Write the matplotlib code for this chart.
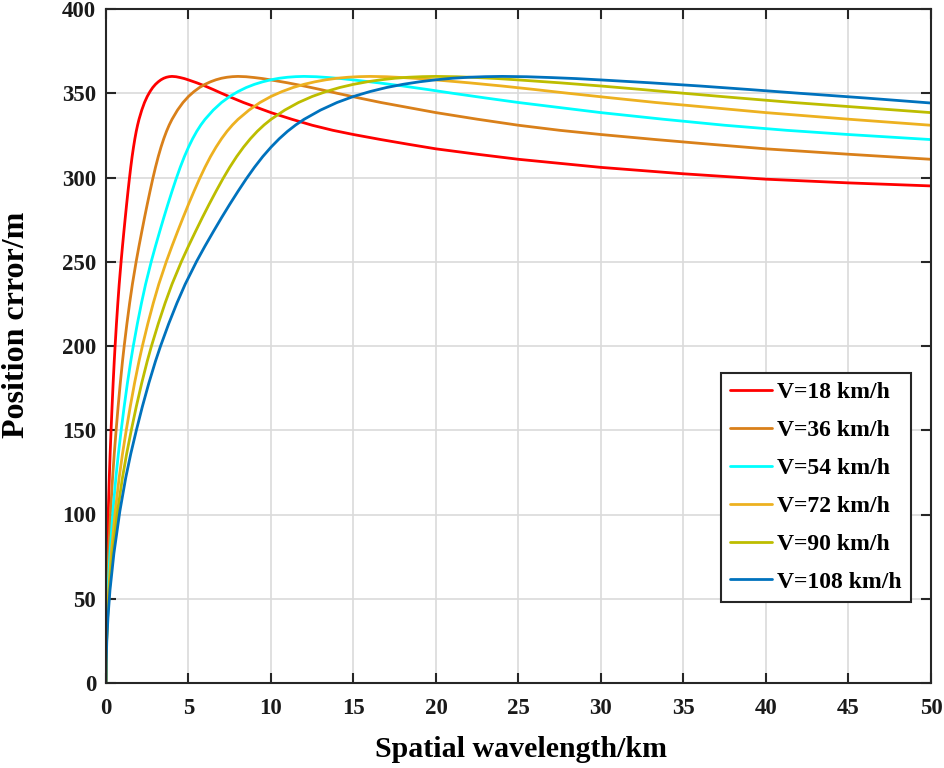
import matplotlib
matplotlib.use("Agg")
import matplotlib.pyplot as plt

labels = ["V=18 km/h", "V=36 km/h", "V=54 km/h", "V=72 km/h", "V=90 km/h", "V=108 km/h"]
colors = ["#FF0000", "#D9801A", "#00FFFF", "#EDB120", "#BDBD00", "#0072BD"]

# --- V = 18 km/h ---
x_v18 = [0, 0.002, 0.008, 0.02, 0.04, 0.08, 0.14, 0.2, 0.25, 0.307, 0.367, 0.433, 0.5, 0.55, 0.633, 0.717,
         0.8, 0.917, 1.0, 1.083, 1.167, 1.25, 1.333, 1.417, 1.5, 1.583, 1.667, 1.75, 1.833, 1.917, 2.0,
         2.167, 2.333, 2.5, 2.667, 2.833, 3.0, 3.167, 3.333, 3.5, 3.667, 3.833, 4.0,
         4.25, 4.5, 4.75, 5.0, 5.5, 6.0, 6.5, 7.0, 7.667, 8.333, 9.167, 10.0, 11.25, 12.5, 13.75, 15.0,
         16.667, 18.333, 20.0, 22.5, 25.0, 30.0, 35.0, 40.0, 45.0, 50.0]
y_v18 = [0, 12, 25, 39, 55, 77, 102, 122, 136, 150, 163.9, 178.1, 191, 199.8, 213.2, 225.5,
         236.7, 250.4, 259.3, 267.8, 276.1, 284.1, 291.8, 299.2, 306.1, 312.4, 318, 323, 327.4, 331.2, 334.5,
         340, 344.5, 348.1, 351, 353.4, 355.3, 356.8, 358, 358.9, 359.5, 359.85, 360,
         359.8, 359.3, 358.7, 357.9, 356.2, 354.3, 352.2, 350, 347.2, 344.5, 341.5, 338.5, 334.6, 331, 328, 325.5,
         322.5, 319.7, 317, 313.8, 310.8, 306, 302.2, 299, 296.8, 295]

# --- V = 36 km/h ---
x_v36 = [0, 0.004, 0.016, 0.04, 0.08, 0.16, 0.28, 0.4, 0.5, 0.613, 0.733, 0.867, 1.0, 1.1, 1.267, 1.433,
         1.6, 1.833, 2.0, 2.167, 2.333, 2.5, 2.667, 2.833, 3.0, 3.167, 3.333, 3.5, 3.667, 3.833, 4.0,
         4.333, 4.667, 5.0, 5.333, 5.667, 6.0, 6.333, 6.667, 7.0, 7.333, 7.667, 8.0,
         8.5, 9.0, 9.5, 10.0, 11.0, 12.0, 13.0, 14.0, 15.333, 16.667, 18.333, 20.0, 22.5, 25.0, 27.5, 30.0,
         33.333, 36.667, 40.0, 45.0, 50.0]
y_v36 = [0, 12, 25, 39, 55, 77, 102, 122, 136, 150, 163.9, 178.1, 191, 199.8, 213.2, 225.5,
         236.7, 250.4, 259.3, 267.8, 276.1, 284.1, 291.8, 299.2, 306.1, 312.4, 318, 323, 327.4, 331.2, 334.5,
         340, 344.5, 348.1, 351, 353.4, 355.3, 356.8, 358, 358.9, 359.5, 359.85, 360,
         359.8, 359.3, 358.7, 357.9, 356.2, 354.3, 352.2, 350, 347.2, 344.5, 341.5, 338.5, 334.6, 331, 328, 325.5,
         322.5, 319.7, 317, 313.8, 310.8]

# --- V = 54 km/h ---
x_v54 = [0, 0.006, 0.024, 0.06, 0.12, 0.24, 0.42, 0.6, 0.75, 0.92, 1.1, 1.3, 1.5, 1.65, 1.9, 2.15,
         2.4, 2.75, 3.0, 3.25, 3.5, 3.75, 4.0, 4.25, 4.5, 4.75, 5.0, 5.25, 5.5, 5.75, 6.0,
         6.5, 7.0, 7.5, 8.0, 8.5, 9.0, 9.5, 10.0, 10.5, 11.0, 11.5, 12.0,
         12.75, 13.5, 14.25, 15.0, 16.5, 18.0, 19.5, 21.0, 23.0, 25.0, 27.5, 30.0, 33.75, 37.5, 41.25, 45.0,
         50.0]
y_v54 = [0, 12, 25, 39, 55, 77, 102, 122, 136, 150, 163.9, 178.1, 191, 199.8, 213.2, 225.5,
         236.7, 250.4, 259.3, 267.8, 276.1, 284.1, 291.8, 299.2, 306.1, 312.4, 318, 323, 327.4, 331.2, 334.5,
         340, 344.5, 348.1, 351, 353.4, 355.3, 356.8, 358, 358.9, 359.5, 359.85, 360,
         359.8, 359.3, 358.7, 357.9, 356.2, 354.3, 352.2, 350, 347.2, 344.5, 341.5, 338.5, 334.6, 331, 328, 325.5,
         322.5]

# --- V = 72 km/h ---
x_v72 = [0, 0.008, 0.032, 0.08, 0.16, 0.32, 0.56, 0.8, 1.0, 1.227, 1.467, 1.733, 2.0, 2.2, 2.533, 2.867,
         3.2, 3.667, 4.0, 4.333, 4.667, 5.0, 5.333, 5.667, 6.0, 6.333, 6.667, 7.0, 7.333, 7.667, 8.0,
         8.667, 9.333, 10.0, 10.667, 11.333, 12.0, 12.667, 13.333, 14.0, 14.667, 15.333, 16.0,
         17.0, 18.0, 19.0, 20.0, 22.0, 24.0, 26.0, 28.0, 30.667, 33.333, 36.667, 40.0, 45.0, 50.0]
y_v72 = [0, 12, 25, 39, 55, 77, 102, 122, 136, 150, 163.9, 178.1, 191, 199.8, 213.2, 225.5,
         236.7, 250.4, 259.3, 267.8, 276.1, 284.1, 291.8, 299.2, 306.1, 312.4, 318, 323, 327.4, 331.2, 334.5,
         340, 344.5, 348.1, 351, 353.4, 355.3, 356.8, 358, 358.9, 359.5, 359.85, 360,
         359.8, 359.3, 358.7, 357.9, 356.2, 354.3, 352.2, 350, 347.2, 344.5, 341.5, 338.5, 334.6, 331]

# --- V = 90 km/h ---
x_v90 = [0, 0.01, 0.04, 0.1, 0.2, 0.4, 0.7, 1.0, 1.25, 1.533, 1.833, 2.167, 2.5, 2.75, 3.167, 3.583,
         4.0, 4.583, 5.0, 5.417, 5.833, 6.25, 6.667, 7.083, 7.5, 7.917, 8.333, 8.75, 9.167, 9.583, 10.0,
         10.833, 11.667, 12.5, 13.333, 14.167, 15.0, 15.833, 16.667, 17.5, 18.333, 19.167, 20.0,
         21.25, 22.5, 23.75, 25.0, 27.5, 30.0, 32.5, 35.0, 38.333, 41.667, 45.833, 50.0]
y_v90 = [0, 12, 25, 39, 55, 77, 102, 122, 136, 150, 163.9, 178.1, 191, 199.8, 213.2, 225.5,
         236.7, 250.4, 259.3, 267.8, 276.1, 284.1, 291.8, 299.2, 306.1, 312.4, 318, 323, 327.4, 331.2, 334.5,
         340, 344.5, 348.1, 351, 353.4, 355.3, 356.8, 358, 358.9, 359.5, 359.85, 360,
         359.8, 359.3, 358.7, 357.9, 356.2, 354.3, 352.2, 350, 347.2, 344.5, 341.5, 338.5]

# --- V = 108 km/h ---
x_v108 = [0, 0.012, 0.048, 0.12, 0.24, 0.48, 0.84, 1.2, 1.5, 1.84, 2.2, 2.6, 3.0, 3.3, 3.8, 4.3,
          4.8, 5.5, 6.0, 6.5, 7.0, 7.5, 8.0, 8.5, 9.0, 9.5, 10.0, 10.5, 11.0, 11.5, 12.0,
          13.0, 14.0, 15.0, 16.0, 17.0, 18.0, 19.0, 20.0, 21.0, 22.0, 23.0, 24.0,
          25.5, 27.0, 28.5, 30.0, 33.0, 36.0, 39.0, 42.0, 46.0, 50.0]
y_v108 = [0, 12, 25, 39, 55, 77, 102, 122, 136, 150, 163.9, 178.1, 191, 199.8, 213.2, 225.5,
          236.7, 250.4, 259.3, 267.8, 276.1, 284.1, 291.8, 299.2, 306.1, 312.4, 318, 323, 327.4, 331.2, 334.5,
          340, 344.5, 348.1, 351, 353.4, 355.3, 356.8, 358, 358.9, 359.5, 359.85, 360,
          359.8, 359.3, 358.7, 357.9, 356.2, 354.3, 352.2, 350, 347.2, 344.2]

xs = [x_v18, x_v36, x_v54, x_v72, x_v90, x_v108]
ys = [y_v18, y_v36, y_v54, y_v72, y_v90, y_v108]

x_ticks = [0, 5, 10, 15, 20, 25, 30, 35, 40, 45, 50]
y_ticks = [0, 50, 100, 150, 200, 250, 300, 350, 400]

plt.rcParams['font.family'] = ['Liberation Serif', 'DejaVu Serif']
plt.rcParams['font.weight'] = 'bold'

fig = plt.figure(figsize=(9.45, 7.68), dpi=100)
ax = fig.add_axes([106 / 945, 1 - 683 / 768, (931 - 106) / 945, (683 - 9) / 768])

for x, y, c, lab in zip(xs, ys, colors, labels):
    ax.plot(x, y, color=c, lw=2.0, label=lab, solid_joinstyle='round', solid_capstyle='round')

ax.set_xlim(0, 50)
ax.set_ylim(0, 400)
ax.set_xticks(x_ticks)
ax.set_yticks(y_ticks)
ax.grid(True, color='#DADADA', lw=1.2)
ax.set_axisbelow(True)
for s in ax.spines.values():
    s.set_color('#262626')
    s.set_linewidth(1.5)
ax.tick_params(direction='in', length=7, width=1.5, color='#262626', top=True, right=True,
               labelsize=16.5, labelcolor='#1a1a1a')
ax.tick_params(axis='x', pad=11)
ax.tick_params(axis='y', pad=7)
for t in ax.get_xticklabels() + ax.get_yticklabels():
    t.set_fontweight('bold')

ax.set_xlabel('Spatial wavelength/km', fontsize=21.5, fontweight='bold')
ax.set_ylabel('Position crror/m', fontsize=23, fontweight='bold')
ax.xaxis.set_label_coords(0.503, -(736 - 683) / 674)
ax.yaxis.set_label_coords((31 - 106) / 825, (683 - 325) / 674)

leg = ax.legend(loc='upper left', bbox_to_anchor=((721 - 106) / 825, 1 - (373 - 9) / 674),
                prop={'family': 'Liberation Serif', 'weight': 'bold', 'size': 17},
                frameon=True, fancybox=False, edgecolor='#262626', framealpha=1,
                handlelength=1.8, handletextpad=0.2, labelspacing=0.69, borderpad=0.38,
                borderaxespad=0)
leg.get_frame().set_linewidth(1.5)

fig.savefig('out.png', dpi=100)
